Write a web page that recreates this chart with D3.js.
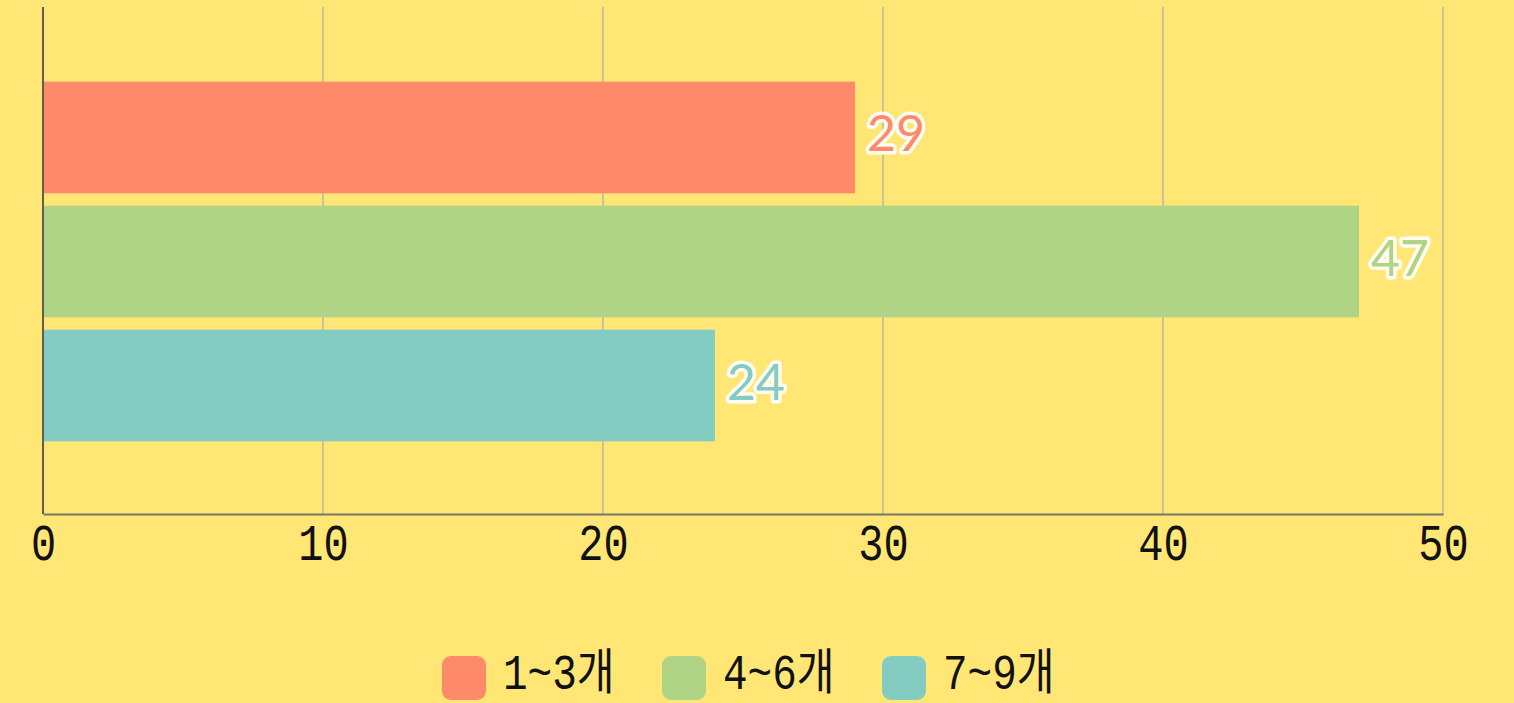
<!DOCTYPE html>
<html>
<head>
<meta charset="utf-8">
<script src="https://cdn.jsdelivr.net/npm/d3@7"></script>
<style>
  body { margin: 0; background: #ffe675; }
  svg { display: block; }
</style>
</head>
<body>
<div class="chart"></div>
<script>
var series = ["1~3개", "4~6개", "7~9개"];
var values = [29, 47, 24];
var colors = ["#ff8a69", "#b0d485", "#84cbc2"];
var xTicks = [0, 10, 20, 30, 40, 50];

var w = 1514;
var h = 703;
var padLeft = 43, padRight = 1443, padTop = 7, padBottom = 514;
var mono = "'Liberation Mono', 'DejaVu Sans Mono', 'Noto Sans CJK KR', monospace";
var stretch = 1.25; // tall narrow glyphs in the original

var svg = d3.select(".chart")
            .append("svg")
            .attr("width", w)
            .attr("height", h);

var xScale = d3.scaleLinear()
    .domain([0, 50])
    .range([padLeft, padRight]);

// one empty category with the three series grouped inside it
var yOuter = d3.scaleBand()
    .domain([""])
    .range([padTop, padBottom])
    .paddingInner(0.17)
    .paddingOuter(0.17);
var yInner = d3.scaleBand()
    .domain(series)
    .range([0, yOuter.bandwidth()])
    .paddingInner(0.1);

// gridlines
svg.selectAll(".grid")
    .data(xTicks.slice(1))
    .enter()
    .append("line")
    .attr("x1", d => xScale(d))
    .attr("x2", d => xScale(d))
    .attr("y1", padTop)
    .attr("y2", padBottom)
    .attr("stroke", "#c9c39a")
    .attr("stroke-width", 2);

// bars
svg.selectAll(".bar")
    .data(values)
    .enter()
    .append("rect")
    .attr("x", xScale(0))
    .attr("y", (d, i) => yOuter("") + yInner(series[i]) + 1)
    .attr("width", d => xScale(d) - xScale(0))
    .attr("height", yInner.bandwidth())
    .attr("fill", (d, i) => colors[i]);

// value labels
svg.selectAll(".val")
    .data(values)
    .enter()
    .append("text")
    .attr("x", d => xScale(d) + 12)
    .attr("y", (d, i) => yOuter("") + yInner(series[i]) + yInner.bandwidth() / 2 - 3)
    .attr("dy", "0.36em")
    .attr("font-family", "Lato, 'Noto Sans', sans-serif")
    .attr("font-size", 50)
    .attr("fill", (d, i) => colors[i])
    .attr("stroke", "#ffffff")
    .attr("stroke-width", 7)
    .attr("stroke-opacity", 0.9)
    .attr("stroke-linejoin", "round")
    .attr("paint-order", "stroke")
    .text(d => d);

// axes
var xAxis = d3.axisBottom(xScale).tickValues(xTicks).tickSize(0);
var gx = svg.append("g")
    .attr("transform", "translate(0," + padBottom + ")")
    .call(xAxis);
gx.select(".domain").attr("stroke", "#77766a").attr("stroke-width", 2);
gx.selectAll("text")
    .attr("y", 46 / stretch)
    .attr("dy", 0)
    .attr("transform", "scale(1," + stretch + ")")
    .attr("font-family", mono)
    .attr("font-size", 42)
    .attr("fill", "#111");

svg.append("line")
    .attr("x1", padLeft)
    .attr("x2", padLeft)
    .attr("y1", padTop)
    .attr("y2", padBottom)
    .attr("stroke", "#5f5e55")
    .attr("stroke-width", 2);

// legend
var legX = [442, 662, 882];
var legStretch = 1.2;
var leg = svg.selectAll(".leg")
    .data(series)
    .enter()
    .append("g")
    .attr("transform", (d, i) => "translate(" + legX[i] + ",656)");
leg.append("rect")
    .attr("width", 44)
    .attr("height", 44)
    .attr("rx", 9)
    .attr("fill", (d, i) => colors[i]);
leg.append("text")
    .attr("x", 61)
    .attr("y", 33 / legStretch)
    .attr("transform", "scale(1," + legStretch + ")")
    .attr("font-family", mono)
    .attr("font-size", 41)
    .attr("fill", "#111")
    .text(d => d);
</script>
</body>
</html>
